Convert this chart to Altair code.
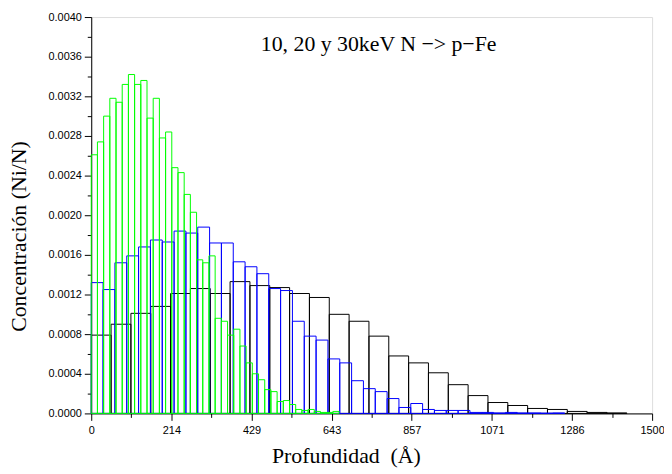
import altair as alt
import pandas as pd

# Series values (concentration Ni/N per depth bin)
green_vals = [0.00261, 0.00274, 0.00300, 0.00318, 0.00314, 0.00332, 0.00342, 0.00332,
              0.00336, 0.00298, 0.00318, 0.00278, 0.00284, 0.00248, 0.00243, 0.00221,
              0.00203, 0.00155, 0.00152, 0.00159, 0.00096, 0.00093, 0.00079, 0.00085,
              0.00068, 0.00051, 0.00040, 0.00034, 0.00024, 0.00022, 0.00012, 0.00013,
              0.00009, 0.00004, 0.00003, 0.00004, 0.00002, 0.00001, 0.00001, 0.00002]
blue_vals = [0.00132, 0.00125, 0.00152, 0.00159, 0.00168, 0.00175, 0.00173, 0.00184,
             0.00182, 0.00188, 0.00172, 0.00172, 0.00153, 0.00148, 0.00141, 0.00126,
             0.00124, 0.00093, 0.00078, 0.00074, 0.00055, 0.00051, 0.00033, 0.00025,
             0.00022, 0.00015, 0.00006, 0.00010, 0.00004, 0.00003, 0.00003, 0.00003,
             0.00001, 0.00001, 0.000005, 0.00001, 0.000005, 0.000005, 0.000003, 0.000005]
black_vals = [0.00079, 0.00090, 0.00101, 0.00108, 0.00121, 0.00126, 0.00121, 0.00133,
              0.00129, 0.00127, 0.00121, 0.00117, 0.00100, 0.00093, 0.00078, 0.00058,
              0.00051, 0.00041, 0.00029, 0.00018, 0.00011, 0.00008, 0.00005, 0.00004,
              0.00002, 0.00001, 0.000005]
series_names = ["30keV", "20keV", "10keV"]
bin_widths = [53.05, 31.65, 16.57]  # Å per bin
series_colors = ["#000000", "#0000ff", "#00ff00"]

x_tick_labels = ["0", "214", "429", "643", "857", "1071", "1286", "1500"]
title_text = ["10, 20 y 30keV N \u2212> p\u2212Fe"]

rows = []
for name, w, vals in zip(series_names, bin_widths, [black_vals, blue_vals, green_vals]):
    for i, v in enumerate(vals):
        rows.append({"serie": name, "x0": i * w, "x1": (i + 1) * w, "c": v, "ord": len(rows)})
df = pd.DataFrame(rows)

label_list = "[" + ",".join("'%s'" % t for t in x_tick_labels) + "]"
x_axis = alt.Axis(
    values=[i * 1500 / 14 for i in range(15)],
    labelExpr="round(datum.value*14/1500) % 2 == 0 ? " + label_list + "[round(datum.value*7/1500)] : ''",
    tickSize={"condition": {"test": "round(datum.value*14/1500) % 2 == 1", "value": 4}, "value": 7},
    grid=False, labelFont="Liberation Sans", labelFontSize=11, labelColor="black",
    labelPadding=4, tickColor="black", domainColor="black", labelFlush=False,
    title="Profundidad\u00a0 (Å)", titleFont="Liberation Serif", titleFontSize=22,
    titleFontWeight="normal", titleColor="black", titleX=257, titleY=50,
    titleBaseline="alphabetic",
)
y_axis = alt.Axis(
    values=[i * 0.0002 for i in range(21)],
    labelExpr="round(datum.value*5000) % 2 == 0 ? format(datum.value, '.4f') : ''",
    tickSize={"condition": {"test": "round(datum.value*5000) % 2 == 1", "value": 4}, "value": 7},
    grid=False, labelFont="Liberation Sans", labelFontSize=11, labelColor="black",
    labelPadding=3, tickColor="black", domainColor="black", labelFlush=False,
    title="Concentración (Ni/N)", titleFont="Liberation Serif", titleFontSize=22,
    titleFontWeight="normal", titleColor="black", titleX=-66, titleY=221,
    titleBaseline="alphabetic",
)

bars = alt.Chart(df).mark_bar(fill="transparent", strokeWidth=1).encode(
    x=alt.X("x0:Q", scale=alt.Scale(domain=[0, 1500], nice=False, zero=False), axis=x_axis),
    x2="x1:Q",
    y=alt.Y("c:Q", scale=alt.Scale(domain=[0, 0.004], nice=False), axis=y_axis),
    y2=alt.datum(0),
    stroke=alt.Stroke("serie:N", scale=alt.Scale(domain=series_names, range=series_colors), legend=None),
    order=alt.Order("ord:Q"),
)

title = alt.Chart(pd.DataFrame({"t": title_text})).mark_text(
    font="Liberation Serif", fontSize=22, color="black", align="center", baseline="alphabetic"
).encode(text="t:N", x=alt.value(290), y=alt.value(34))

chart = alt.layer(bars, title).properties(
    width=566, height=400,
    autosize=alt.AutoSizeParams(type="none"),
    padding={"left": 84, "top": 7, "right": 12, "bottom": 58},
).configure_view(stroke="black", strokeWidth=1).configure(background="white")

chart.save("out.html", embed_options={"renderer": "svg", "actions": False})
